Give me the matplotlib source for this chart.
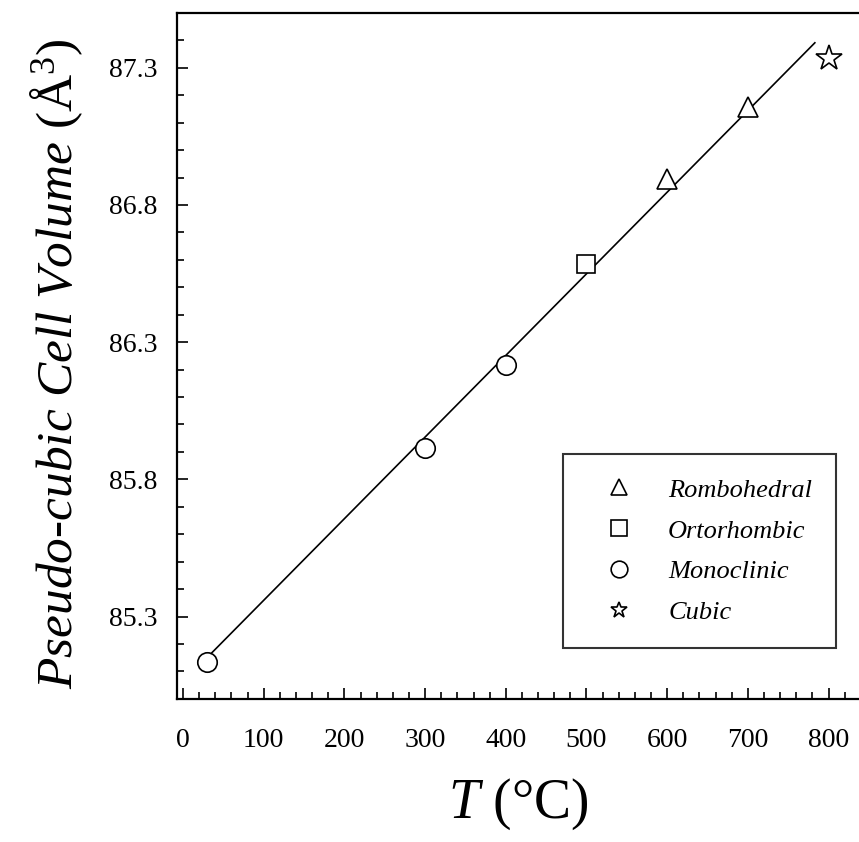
import numpy as np
import matplotlib
matplotlib.use("Agg")
import matplotlib.pyplot as plt
from matplotlib.ticker import MultipleLocator

plt.rcParams['font.family'] = ['Liberation Serif', 'DejaVu Serif']
plt.rcParams['mathtext.fontset'] = 'custom'
plt.rcParams['mathtext.rm'] = 'Liberation Serif'
plt.rcParams['mathtext.it'] = 'Liberation Serif:italic'

# Volumen de celda pseudo-cubica por fase
T_mono = [30, 300, 400]
V_mono = [85.134, 85.915, 86.218]
T_orto = [500]
V_orto = [86.586]
T_romb = [600, 700]
V_romb = [86.893, 87.156]
T_cub = [800]
V_cub = [87.336]

# Recta de ajuste lineal
T_fit = [27, 783]
V_fit = [85.142, 87.391]

fig = plt.figure(figsize=(8.59, 8.42), dpi=100)
ax = fig.add_axes([0.206, 0.170, 0.794, 0.8147])

ax.plot(T_fit, V_fit, color='black', lw=1.2, zorder=2)

mk = dict(linestyle='none', mfc='white', mec='black', mew=1.2, zorder=3)
ax.plot(T_romb, V_romb, marker='^', ms=15, label='Rombohedral', **mk)
ax.plot(T_orto, V_orto, marker='s', ms=13, label='Ortorhombic', **mk)
ax.plot(T_mono, V_mono, marker='o', ms=14, label='Monoclinic', **mk)
ax.plot(T_cub, V_cub, marker='*', ms=19, label='Cubic', **mk)

ax.set_xlim(-7.5, 837.7)
ax.set_ylim(85.0, 87.5)

ax.xaxis.set_major_locator(MultipleLocator(100))
ax.xaxis.set_minor_locator(MultipleLocator(20))
ax.yaxis.set_minor_locator(MultipleLocator(0.1))
ax.set_yticks([85.3, 85.8, 86.3, 86.8, 87.3])
ax.set_yticklabels(['85.3', '85.8', '86.3', '86.8', '87.3'])

ax.tick_params(which='major', direction='in', length=8, width=1.2, labelsize=20)
ax.tick_params(which='minor', direction='in', length=5, width=1.2)
ax.tick_params(axis='y', which='both', left=True, right=False, pad=14)
ax.tick_params(axis='x', which='both', bottom=True, top=False, pad=21)

ax.spines['right'].set_visible(False)
for s in ['left', 'bottom', 'top']:
    ax.spines[s].set_linewidth(1.6)

ax.set_xlabel(r'$T$ (°C)', fontsize=40, labelpad=17)
ax.set_ylabel(r'$\mathit{Pseudo}$-$\mathit{cubic\ Cell\ Volume}$ (Å$^3$)', fontsize=37, labelpad=14)
ax.yaxis.set_label_coords(-0.135, 0.488)

leg = ax.legend(loc='lower right', bbox_to_anchor=(0.966, 0.074),
                prop={'family': 'Liberation Serif', 'style': 'italic', 'size': 19},
                frameon=True, fancybox=False, edgecolor='black',
                borderpad=0.9, handlelength=2.5, handletextpad=0.6,
                labelspacing=0.66, borderaxespad=0)
leg.get_frame().set_linewidth(1.5)
for h in leg.legend_handles:
    h.set_markersize(12)

fig.savefig('out.png', dpi=100)
